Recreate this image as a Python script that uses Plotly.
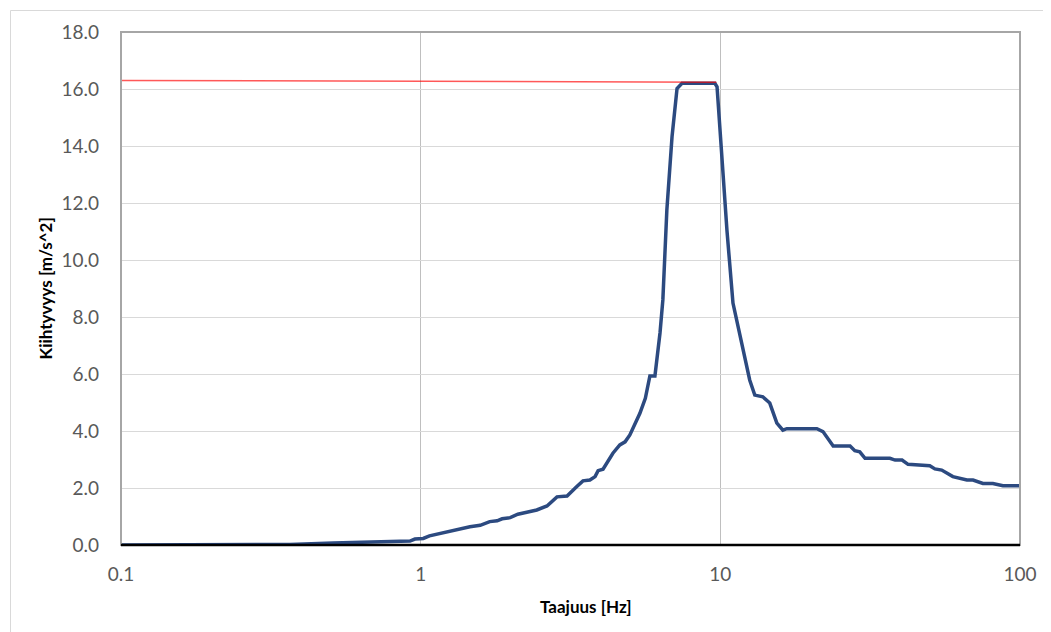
import plotly.graph_objects as go

# Frequency [Hz] and acceleration [m/s^2]
freq = [0.1, 0.366, 0.51, 0.731, 0.853, 0.921, 0.957, 1.02, 1.07, 1.25, 1.35, 1.46,
        1.58, 1.70, 1.80, 1.87, 1.99, 2.11, 2.26, 2.44, 2.64, 2.85, 3.08, 3.22,
        3.32, 3.48, 3.67, 3.82, 3.91, 4.06, 4.38, 4.62, 4.81, 4.99, 5.39, 5.62,
        5.82, 6.05, 6.29, 6.43, 6.63, 6.90, 7.17, 7.45, 9.59,
        9.75, 10.36, 10.52, 11.02, 11.80, 12.53, 13.03, 13.86, 14.62, 15.44,
        16.17, 16.67, 21.0, 22.0, 23.8, 27.1, 28.1, 29.2, 30.4, 36.8, 38.3, 40.4,
        42.3, 50.0, 52.0, 54.8, 59.7, 66.5, 69.7, 75.2, 81.2, 87.7, 100.0]
accel = [0.0, 0.02, 0.07, 0.1, 0.12, 0.14, 0.21, 0.23, 0.32, 0.47, 0.57, 0.64,
         0.69, 0.82, 0.85, 0.92, 0.96, 1.08, 1.15, 1.23, 1.37, 1.69, 1.72, 1.93,
         2.05, 2.25, 2.28, 2.4, 2.61, 2.66, 3.22, 3.51, 3.62, 3.86, 4.62, 5.15,
         5.93, 5.93, 7.44, 8.6, 11.75, 14.33, 16.02, 16.2, 16.2,
         16.08, 11.75, 11.05, 8.49, 7.09, 5.79, 5.26, 5.2, 4.98, 4.28,
         4.03, 4.08, 4.08, 3.98, 3.47, 3.47, 3.31, 3.27, 3.04, 3.04, 2.98, 2.98,
         2.83, 2.78, 2.67, 2.63, 2.4, 2.28, 2.28, 2.16, 2.16, 2.08, 2.08]

limit_freq = [0.1, 9.7]
limit_accel = [16.30, 16.24]

x_ticks = [0.1, 1, 10, 100]
x_tick_text = ["0.1", "1", "10", "100"]
y_ticks = [0, 2, 4, 6, 8, 10, 12, 14, 16, 18]
y_tick_text = ["0.0", "2.0", "4.0", "6.0", "8.0", "10.0", "12.0", "14.0", "16.0", "18.0"]

FONT = "Lato, 'Open Sans', sans-serif"

# page body has an 8px margin; the figure is sized to fit the window
L, T, PW, PH = 113, 24, 899, 513

fig = go.Figure()
fig.add_trace(go.Scatter(x=freq, y=accel, mode="lines",
                         line=dict(color="#2C4A80", width=3.5), showlegend=False))
fig.add_trace(go.Scatter(x=limit_freq, y=limit_accel, mode="lines",
                         line=dict(color="#FF0000", width=1.5), opacity=0.65,
                         showlegend=False))

fig.update_layout(
    width=1043, height=624,
    margin=dict(l=L, r=1043 - L - PW, t=T, b=624 - T - PH),
    paper_bgcolor="white", plot_bgcolor="white",
    font=dict(family=FONT, color="#595959", size=19),
    xaxis=dict(type="log", range=[-1, 2], tickvals=x_ticks, ticktext=x_tick_text,
               showgrid=True, gridcolor="#BFBFBF", gridwidth=1,
               showline=False, zeroline=False, ticks="", ticklabelstandoff=16,
               tickfont=dict(size=19, color="#595959")),
    yaxis=dict(range=[0, 18], tickvals=y_ticks, ticktext=y_tick_text,
               showgrid=True, gridcolor="#D9D9D9", gridwidth=1,
               showline=False, zeroline=False, ticks="", ticklabelstandoff=21,
               tickfont=dict(size=19, color="#595959")),
    shapes=[
        # outer chart border (top/left visible)
        dict(type="rect", xref="paper", yref="paper",
             x0=(2.5 - L) / PW, x1=1.2, y0=-0.5, y1=1 + (T - 2.5) / PH,
             line=dict(color="#D9D9D9", width=1), layer="below"),
        # plot area border
        dict(type="rect", xref="paper", yref="paper", x0=0, x1=1, y0=0, y1=1,
             line=dict(color="#A6A6A6", width=2), layer="above"),
        # black x axis line
        dict(type="line", xref="paper", yref="paper", x0=0, x1=1, y0=0, y1=0,
             line=dict(color="black", width=2.5), layer="above"),
    ],
    annotations=[
        dict(text="<b>Taajuus [Hz]</b>", xref="paper", yref="paper",
             x=(585.5 - 121) / PW, y=(545 - 607) / PH, showarrow=False,
             font=dict(size=17, color="black", family=FONT),
             xanchor="center", yanchor="middle"),
        dict(text="<b>Kiihtyvyys [m/s^2]</b>", xref="paper", yref="paper",
             x=(45 - 121) / PW, y=0.5, showarrow=False, textangle=-90,
             font=dict(size=17, color="black", family=FONT),
             xanchor="center", yanchor="middle"),
    ],
)

fig.write_html("out.html")
